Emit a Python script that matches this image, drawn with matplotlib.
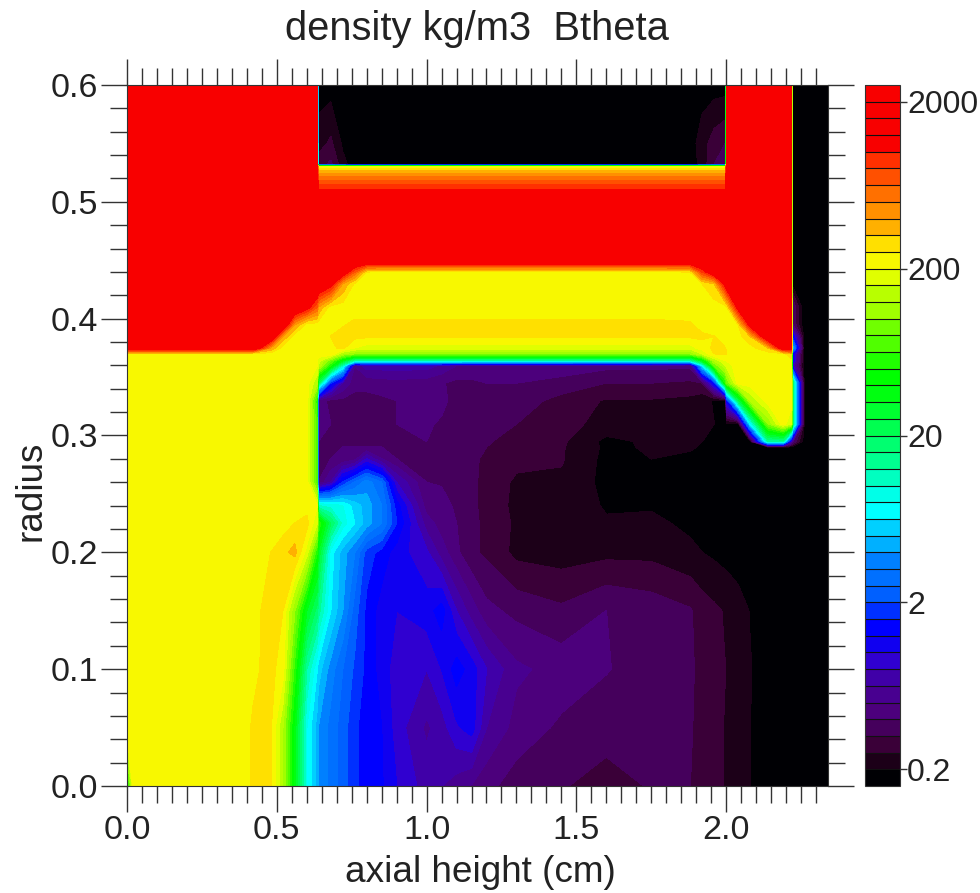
import numpy as np
import matplotlib
matplotlib.use("Agg")
import matplotlib.pyplot as plt
from matplotlib.colors import ListedColormap
from matplotlib.ticker import MultipleLocator

plt.rcParams['font.family'] = ['Liberation Sans', 'DejaVu Sans']

title = "density kg/m3  Btheta"
xlabel = "axial height (cm)"
ylabel = "radius"
cbar_ticks = [0, 10, 20, 30, 40]
cbar_labels = ["0.2", "2", "20", "200", "2000"]

# one colour for each band of the colour bar, lowest first
band_colors = ["#000004", "#1c0018", "#3a0038", "#45005c", "#4c007c", "#480090", "#4000a8", "#3000d0",
               "#1000f0", "#0000ff", "#0030ff", "#0060ff", "#0070ff", "#0080ff", "#00b0ff", "#00d0ff",
               "#00ffff", "#00ffe8", "#00ffc0", "#00ff90", "#00ff70", "#00ff50", "#00ff30", "#00ff10",
               "#00ff00", "#20ff00", "#50ff00", "#70ff00", "#a0ff00", "#b8ff00", "#e0ff00", "#f8f800",
               "#ffe000", "#ffb000", "#ff9000", "#ff7000", "#ff5000", "#ff3000", "#f80000", "#f80000",
               "#f80000", "#f80000"]

axial = [0.0, 0.02, 0.38, 0.42, 0.48, 0.52, 0.56, 0.60, 0.635, 0.638, 0.68, 0.72, 0.76, 0.80, 0.85, 0.90,
         1.0, 1.05, 1.1, 1.15, 1.2, 1.3, 1.45, 1.6, 1.75, 1.88, 1.92, 1.96, 1.998, 2.002, 2.04, 2.08, 2.14, 2.19,
         2.218, 2.222, 2.26, 2.34]
radius = [0.0, 0.05, 0.10, 0.15, 0.20, 0.225, 0.24, 0.26, 0.28, 0.29, 0.295, 0.31, 0.33, 0.345, 0.36,
          0.364, 0.37, 0.375, 0.385, 0.395, 0.41, 0.43, 0.44, 0.45, 0.505, 0.52, 0.53, 0.532, 0.55, 0.60]

# density, as tenths of a decade above 0.2 kg/m3, one row per radius
density_db = [
    [22, 30.5, 30.5, 31.1, 31.05, 28, 22.5, 16, 13.5, 13, 11.6, 10.5, 9.2, 8.5, 8.1, 7, 5.5, 5, 4.5, 3.9, 3.3, 2.5, 2.1, 1.5, 2.1, 2.0, 1.6, 1.2, .95, .9, .5, 0] + [-.5] * 6,
    [30.5, 30.5, 30.5, 31.1, 31.1, 28, 22.5, 16, 13.5, 13, 11.6, 10.5, 9.2, 8.5, 8, 6.5, 4.8, 5.5, 6.8, 7.5, 5, 3.6, 2.8, 2.5, 2.5, 2.1, 1.6, 1.2, .95, .9, .5, 0] + [-.5] * 6,
    [30.5, 30.5, 30.5, 30.8, 31.3, 30.5, 24.5, 18, 15, 14.5, 12.5, 11, 9.8, 8.7, 7.5, 6.5, 6, 7, 8.5, 7.5, 6, 4.2, 3.6, 3.05, 2.6, 2.15, 1.7, 1.3, 1.0, .95, .5, .05] + [-.5] * 6,
    [30.5, 30.5, 30.5, 30.5, 31.6, 31, 27, 22, 19.5, 18.5, 15, 13, 10.5, 8.7, 7.5, 7, 7.5, 8.5, 6, 4.5, 3.3, 2.7, 2.2, 3.0, 2.6, 2.1, 1.5, 1.2, .9, .85, .4, -.05] + [-.5] * 6,
    [30.5, 30.5, 30.5, 30.5, 31, 31.6, 32.4, 29.5, 24, 22, 15.5, 13.5, 12, 9.5, 8.6, 7.5, 6.2, 4.5, 3.2, 2.2, 1.8, .7, .5, .7, .7, .2, 0, -.2, -.4, -.4, -.5, -.5] + [-.5] * 6,
    [30.5] * 5 + [30.5, 31, 31.4, 29, 25, 20, 16.5, 15, 13.5, 12, 9, 4.5, 3.5, 3, 2.2, 1.8, .8, .5, .1, .2, -.2] + [-.5] * 12,
    [30.5] * 7 + [30.5, 30, 17, 16.5, 16, 14.5, 13.5, 12, 8.5, 3.5, 3.2, 2.9, 2.2, 1.7, .7, .6, -.1, -.1, -.4] + [-.5] * 12,
    [30.5] * 8 + [25, 3, 5, 9, 11, 12.5, 11, 6, 3, 2.95, 2.9, 2.2, 1.7, .8, .8, -.3, -.2, -.5] + [-.5] * 12,
    [30.5] * 8 + [25, 3, 3, 3.1, 3.5, 6, 4, 3, 3, 2.8, 2.6, 2.2, 1.8, 1.3, 1.1, -.3, 0, -.2] + [-.5] * 12,
    [30.5] * 8 + [25, 3, 3, 3, 3, 3, 3, 3, 3, 2.85, 2.7, 2.3, 2, 1.5, 1.1, -.2, .1, .1] + [-.1] + [-.5] * 11,
    [30.5] * 8 + [25, 3, 3, 3, 3, 3, 3, 3, 3, 2.85, 2.7, 2.4, 2.1, 1.6, 1.2, -.3, .2, .3] + [0, -.2, -.3, -.3, -.4, -.5, 18, 18, 5, 3, -.5, -.5],
    [30.5] * 8 + [25, 3.5, 3, 3, 3, 3, 3, 3, 3.1, 2.9, 2.7, 2.5, 2.4, 2, 1.3, .7, .8, .5] + [.3, 0, -.2, -.2, -.5, 15, 27, 30.5, 29, 20, 0, -.5],
    [30.5] * 8 + [24, 3.5, 2.7, 2.7, 2.7, 2.7, 2.8, 3, 3.4, 3.2, 2.7, 2.65, 2.6, 2.6, 1.6, .9, .9, .7] + [.3, -.1, -.3, 8, 20, 28, 30.5, 30.5, 30.5, 20, 0, -.5],
    [30.5] * 8 + [28, 20, 9, 5, 3.3, 3.3, 3.5, 3.6, 3.4, 3.1, 2.7, 2.8, 3, 3, 2.7, 2, 2, 1.8] + [2, 8, 24, 26, 30.5, 30.5, 30.5, 30.5, 30.5, 20, 0, -.5],
    [30.5] * 8 + [30, 29, 24, 17, 4, 5.5, 5.5, 5.5, 5.5, 4.8, 4, 3.7, 3.5, 3.5, 3.5, 3.3, 3.3, 3.2] + [15, 26, 29, 29.5, 30.5, 30.5, 30.5, 30.5, 30.5, 6, -.5, -.5],
    [30.5] * 8 + [30, 29.5, 26, 22] + [17] * 14 + [22, 28, 30, 30, 30.5, 30.5, 30.5, 30.5, 30.5, 8, -.5, -.5],
    [30.5] * 9 + [30.5, 31, 28] + [27] * 14 + [29, 31, 31.1, 31, 30.5, 30.5, 30.5, 30.5, 32, 8, -.5, -.5],
    [40] * 4 + [33] + [30.5] * 5 + [30.8, 31.2, 30] + [29.5] * 13 + [30.5, 31.2, 31, 31, 30.5, 30.5, 32, 39, 39, 14, -.5, -.5],
    [40] * 5 + [33] + [30.5] * 4 + [31, 31.3, 31.3] + [31.2] * 13 + [31.2, 31, 30.5, 30.5, 30.5, 32, 40, 40, 40, 8, -.5, -.5],
    [40] * 6 + [33] + [30.5] * 3 + [30.5, 30.9, 31.2] + [31.2] * 12 + [31.1] + [30.5, 30.5, 30.5, 30.5, 31, 38, 40, 40, 40, 3, -.9, -.9],
    [40] * 7 + [38, 35, 33] + [30.5] * 16 + [30.5, 30.5, 30.5, 31, 38, 40, 40, 40, 40, 3, -.9, -.9],
    [40] * 8 + [40, 40, 38, 33, 30.8] + [30.5] * 13 + [31, 32, 38, 39, 40, 40, 40, 40, 40, -.5, -.5, -.5],
    [40] * 11 + [39, 35, 31] + [30.5] * 11 + [31] + [36, 39, 40, 40, 40, 40, 40, 40, 40, -.5, -.5, -.5],
    [40] * 35 + [-.5] * 3,
    [40] * 9 + [38.5] * 20 + [40] * 6 + [-.5] * 3,
    [40] * 9 + [34.5] * 20 + [40] * 6 + [-.5] * 3,
    [40] * 9 + [30.5] * 20 + [40] * 6 + [-.5] * 3,
    [40] * 9 + [1.5, 2.2, .3] + [-.5] * 14 + [.3, 2, 2.5] + [40] * 6 + [-.5] * 3,
    [40] * 9 + [.5, 1.2, -.2] + [-.5] * 14 + [.5, 1.5, 2] + [40] * 6 + [-.5] * 3,
    [40] * 9 + [-.5] * 20 + [40] * 6 + [-.5] * 3,
]

W, H = 980, 893
text_color = "#222222"
tick_color = "#333333"

fig = plt.figure(figsize=(W / 100, H / 100), dpi=100)
ax = fig.add_axes([127 / W, 1 - 786 / H, 701 / W, 701 / H])
cax = fig.add_axes([865 / W, 1 - 786 / H, 35 / W, 701 / H])

levels = np.arange(-1, 42)
cmap = ListedColormap(band_colors)
cf = ax.contourf(axial, radius, np.array(density_db), levels=levels, cmap=cmap)
cf.set_edgecolor("face")
cf.set_linewidth(0.3)

ax.set_xlim(0, 2.34)
ax.set_ylim(0, 0.6)
ax.xaxis.set_major_locator(MultipleLocator(0.5))
ax.xaxis.set_minor_locator(MultipleLocator(0.05))
ax.yaxis.set_major_locator(MultipleLocator(0.1))
ax.yaxis.set_minor_locator(MultipleLocator(0.02))
ax.xaxis.set_major_formatter("{x:.1f}")
ax.yaxis.set_major_formatter("{x:.1f}")

ax.tick_params(which="major", direction="out", length=19, width=1, color=tick_color, top=True, right=True,
               labelsize=24.5, labelcolor=text_color, pad=2)
ax.tick_params(axis="y", which="minor", direction="out", length=12.5, width=1, color=tick_color, left=True, right=True)
ax.tick_params(axis="x", which="minor", direction="out", length=7, width=1, color=tick_color, top=True, bottom=True)
# every second minor tick on the x axis is longer
for tick in ax.xaxis.get_minor_ticks():
    if round(tick.get_loc() / 0.05) % 2 == 0:
        tick.tick1line.set_markersize(12.5)
        tick.tick2line.set_markersize(12.5)

for spine in ax.spines.values():
    spine.set_color(tick_color)
    spine.set_linewidth(0.8)

fig.text(477 / W, 1 - 29 / H, title, ha="center", va="center", fontsize=28.7, color=text_color)
fig.text(480 / W, 1 - 873 / H, xlabel, ha="center", va="center", fontsize=26.6, color=text_color)
fig.text(31 / W, 1 - 491 / H, ylabel, ha="center", va="center", rotation=90, fontsize=26.6, color=text_color)

cbar = fig.colorbar(cf, cax=cax, drawedges=True, ticks=cbar_ticks)
cbar.ax.set_yticklabels(cbar_labels)
cbar.ax.minorticks_off()
cbar.ax.tick_params(length=5, width=1, color=tick_color, labelsize=23, labelcolor=text_color, pad=0)
cbar.dividers.set_color("#111111")
cbar.dividers.set_linewidth(0.8)
cbar.outline.set_edgecolor("#333333")
cbar.outline.set_linewidth(0.8)

fig.savefig("out.png", dpi=100)
